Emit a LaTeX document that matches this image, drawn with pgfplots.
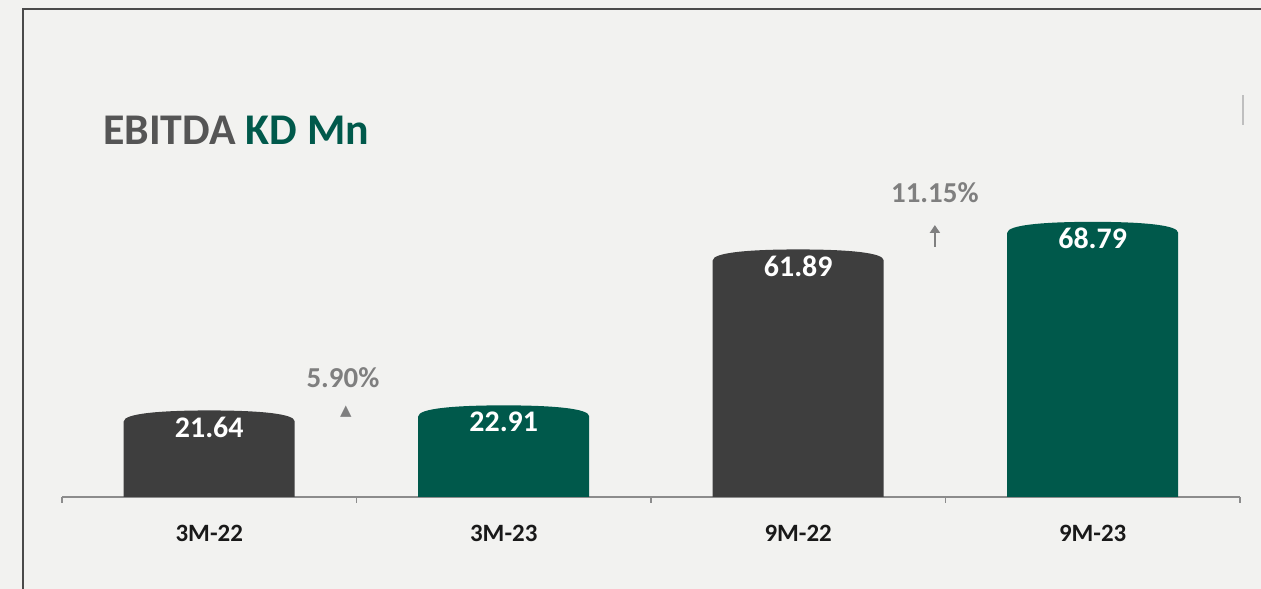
\documentclass[border=0pt]{standalone}
\usepackage{pgfplots}
\pgfplotsset{compat=1.18}
\usetikzlibrary{arrows.meta}
\usepackage{fontspec}
\setmainfont{Carlito}
\newfontfamily\sym{DejaVu Sans}
\definecolor{bg}{HTML}{F2F2F0}
\definecolor{bargray}{HTML}{3E3E3E}
\definecolor{bargreen}{HTML}{00594B}
\definecolor{titlegray}{HTML}{555555}
\definecolor{pctgray}{HTML}{7F7F7F}
\definecolor{framegray}{HTML}{4A4A4A}
\definecolor{axisgray}{HTML}{8C8C8C}

\pgfdeclareplotmark{dome}{%
  \pgfpathmoveto{\pgfpoint{-85.5bp}{-700bp}}%
  \pgfpathlineto{\pgfpoint{-85.5bp}{-11bp}}%
  \pgfpathcurveto{\pgfpoint{-85.5bp}{-3bp}}{\pgfpoint{-48bp}{0bp}}{\pgfpoint{0bp}{0bp}}%
  \pgfpathcurveto{\pgfpoint{48bp}{0bp}}{\pgfpoint{85.5bp}{-3bp}}{\pgfpoint{85.5bp}{-11bp}}%
  \pgfpathlineto{\pgfpoint{85.5bp}{-700bp}}%
  \pgfpathclose
  \pgfusepathqfill
}

\begin{document}
\begin{tikzpicture}
\path[use as bounding box, fill=bg] (0bp,0bp) rectangle (1261bp,589bp);
\draw[framegray, line width=2.5bp] (23bp,-5bp) -- (23bp,580bp) -- (1266bp,580bp);
\draw[black!25, line width=2bp] (1243bp,464bp) -- (1243bp,494bp);
\begin{axis}[
  at={(62bp,92bp)}, anchor=south west,
  scale only axis, width=1178bp, height=400bp,
  xmin=-0.5, xmax=3.5, ymin=0, ymax=100,
  hide y axis,
  axis x line*=bottom,
  axis line style={draw=axisgray, line width=1.5bp},
  xtick={0,1,2,3},
  xticklabels={3M-22,3M-23,9M-22,9M-23},
  minor xtick={-0.5,0.5,1.5,2.5,3.5},
  major tick length=0pt,
  minor tick length=6bp,
  tick align=outside,
  minor tick style={draw=axisgray, line width=1.5bp},
  xticklabel style={font=\fontsize{25}{27}\selectfont\bfseries, text=black!90, inner sep=0pt, yshift=-28bp},
  clip marker paths=true,
  /pgf/number format/assume math mode=true,
  nodes near coords={\pgfmathprintnumber[fixed,fixed zerofill,precision=2]{\pgfplotspointmeta}},
  every node near coord/.append style={anchor=north, yshift=-6bp, inner sep=0pt, font=\fontsize{30}{32}\selectfont\bfseries, text=white},
]
\addplot[only marks, mark=dome, mark options={fill=bargray}] coordinates {(0,21.64) (2,61.89)};
\addplot[only marks, mark=dome, mark options={fill=bargreen}] coordinates {(1,22.91) (3,68.79)};
\node[text=pctgray, font=\fontsize{29}{31}\selectfont\bfseries, inner sep=0pt] at (axis cs:0.454,29.75) {5.90\%};
\node[text=pctgray, font=\fontsize{15}{17}\selectfont\sym, inner sep=0pt] at (axis cs:0.464,21.25) {▲};
\node[text=pctgray, font=\fontsize{29}{31}\selectfont\bfseries, inner sep=0pt] at (axis cs:2.464,76) {11.15\%};
\draw[pctgray, line width=2.5bp, -{Triangle[length=8bp,width=10bp]}] (axis cs:2.464,62.5) -- (axis cs:2.464,68);
\end{axis}
\node[anchor=base west, inner sep=0pt, font=\fontsize{44}{48}\selectfont\bfseries] at (103bp,444bp) {\textcolor{titlegray}{EBITDA} \textcolor{bargreen}{KD Mn}};
\end{tikzpicture}
\end{document}
